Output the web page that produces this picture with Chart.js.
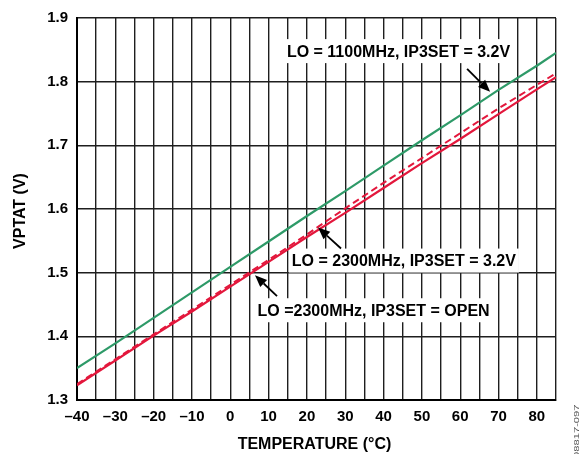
<!DOCTYPE html>
<html>
<head>
<meta charset="utf-8">
<script src="https://cdn.jsdelivr.net/npm/chart.js@4.4.1/dist/chart.umd.min.js"></script>
<style>
  html, body { margin: 0; padding: 0; background: #fff; }
  #wrap { position: relative; width: 585px; height: 454px; }
</style>
</head>
<body>
<div id="wrap"><canvas id="chart" width="585" height="454"></canvas></div>
<script>
// Temperature (°C) sample points
const temps = [-40, -30, -20, -10, 0, 10, 20, 30, 40, 50, 60, 70, 80, 85];

// VPTAT (V)
const lo1100_ip3_32 = [1.350, 1.389, 1.429, 1.469, 1.509, 1.549, 1.589, 1.628, 1.668, 1.708, 1.747, 1.787, 1.825, 1.845];
const lo2300_ip3_32 = [1.325, 1.364, 1.403, 1.442, 1.481, 1.520, 1.560, 1.601, 1.641, 1.680, 1.719, 1.758, 1.795, 1.813];
const lo2300_open   = [1.323, 1.362, 1.401, 1.439, 1.478, 1.517, 1.556, 1.594, 1.633, 1.672, 1.710, 1.749, 1.788, 1.807];

const xTicks = [-40, -30, -20, -10, 0, 10, 20, 30, 40, 50, 60, 70, 80];
const yTicks = [1.3, 1.4, 1.5, 1.6, 1.7, 1.8, 1.9];

// callouts: text anchor and arrow (tail -> tip), in data units
const callouts = [
  { text: 'LO = 1100MHz, IP3SET = 3.2V', at: [43.9, 1.848], tail: [61.8, 1.820], tip: [67.8, 1.784] },
  { text: 'LO = 2300MHz, IP3SET = 3.2V', at: [45.3, 1.519], tail: [28.9, 1.538], tip: [22.9, 1.571] },
  { text: 'LO =2300MHz, IP3SET = OPEN',  at: [37.4, 1.441], tail: [12.2, 1.463], tip: [6.45, 1.496] }
];

const FONT = "'Liberation Sans', Arial, Helvetica, sans-serif";
const GREEN = '#2e9a68';
const RED = '#e3173c';

const toPoints = ys => temps.map((t, i) => ({ x: t, y: ys[i] }));

const calloutBoxes = {
  id: 'calloutBoxes',
  beforeDatasetsDraw(chart) {
    const { ctx, scales: { x, y } } = chart;
    ctx.save();
    ctx.font = 'bold 16px ' + FONT;
    callouts.forEach(c => {
      const w = ctx.measureText(c.text).width;
      const cx = x.getPixelForValue(c.at[0]);
      const cy = y.getPixelForValue(c.at[1]);
      ctx.fillStyle = '#fff';
      ctx.fillRect(cx - w / 2 - 3, cy - 12, w + 6, 24);
    });
    ctx.restore();
  },
  afterDatasetsDraw(chart) {
    const { ctx, scales: { x, y } } = chart;
    ctx.save();
    ctx.font = 'bold 16px ' + FONT;
    ctx.fillStyle = '#000';
    ctx.textAlign = 'center';
    ctx.textBaseline = 'middle';
    callouts.forEach(c => {
      ctx.fillText(c.text, x.getPixelForValue(c.at[0]), y.getPixelForValue(c.at[1]) + 1);

      const x0 = x.getPixelForValue(c.tail[0]), y0 = y.getPixelForValue(c.tail[1]);
      const x1 = x.getPixelForValue(c.tip[0]), y1 = y.getPixelForValue(c.tip[1]);
      const a = Math.atan2(y1 - y0, x1 - x0);
      const hl = 12, hw = 5;
      const bx = x1 - hl * Math.cos(a), by = y1 - hl * Math.sin(a);
      ctx.strokeStyle = '#000';
      ctx.lineWidth = 1.8;
      ctx.beginPath();
      ctx.moveTo(x0, y0);
      ctx.lineTo(bx, by);
      ctx.stroke();
      ctx.beginPath();
      ctx.moveTo(x1, y1);
      ctx.lineTo(bx + hw * Math.sin(a), by - hw * Math.cos(a));
      ctx.lineTo(bx - hw * Math.sin(a), by + hw * Math.cos(a));
      ctx.closePath();
      ctx.fill();
    });
    ctx.restore();
  },
  afterDraw(chart) {
    const { ctx, chartArea } = chart;
    ctx.save();
    ctx.fillStyle = '#000';
    ctx.font = 'bold 16px ' + FONT;
    ctx.textAlign = 'center';
    ctx.textBaseline = 'middle';
    ctx.fillText('TEMPERATURE (°C)', (chartArea.left + chartArea.right) / 2 - 2, 445);
    ctx.translate(21, (chartArea.top + chartArea.bottom) / 2 + 2);
    ctx.rotate(-Math.PI / 2);
    ctx.fillText('VPTAT (V)', 0, 0);
    ctx.restore();

    // figure id, rotated and stretched along its run
    ctx.save();
    ctx.fillStyle = '#555';
    ctx.font = '7px ' + FONT;
    ctx.textAlign = 'left';
    ctx.textBaseline = 'middle';
    ctx.translate(577, 458);
    ctx.rotate(-Math.PI / 2);
    ctx.scale(1.6, 1);
    ctx.fillText('08817-097', 0, 0);
    ctx.restore();
  }
};

new Chart(document.getElementById('chart').getContext('2d'), {
  type: 'line',
  data: {
    datasets: [
      {
        label: 'LO = 2300MHz, IP3SET = 3.2V',
        data: toPoints(lo2300_ip3_32),
        borderColor: RED,
        borderWidth: 2,
        borderDash: [7, 4],
        pointRadius: 0,
        fill: false
      },
      {
        label: 'LO = 2300MHz, IP3SET = OPEN',
        data: toPoints(lo2300_open),
        borderColor: RED,
        borderWidth: 2.2,
        pointRadius: 0,
        fill: false
      },
      {
        label: 'LO = 1100MHz, IP3SET = 3.2V',
        data: toPoints(lo1100_ip3_32),
        borderColor: GREEN,
        borderWidth: 2.2,
        pointRadius: 0,
        fill: false
      }
    ]
  },
  options: {
    responsive: false,
    animation: false,
    layout: { padding: { top: 17, right: 29, left: 0, bottom: 0 } },
    plugins: {
      legend: { display: false },
      tooltip: { enabled: false }
    },
    scales: {
      x: {
        type: 'linear',
        min: -40,
        max: 85,
        afterFit: s => { s.height = 54; },
        afterBuildTicks: s => {
          const t = [];
          for (let v = -40; v <= 85; v += 5) t.push({ value: v });
          s.ticks = t;
        },
        grid: { color: '#1e1e1e', lineWidth: 1.4, drawTicks: false },
        border: { color: '#000', width: 2 },
        ticks: {
          padding: 8,
          autoSkip: false,
          maxRotation: 0,
          color: '#000',
          font: { family: FONT, size: 15, weight: 'bold' },
          callback: v => xTicks.includes(v) ? String(v).replace('-', '\u2013') : ''
        }
      },
      y: {
        min: 1.3,
        max: 1.9,
        afterFit: s => { s.width = 77; },
        afterBuildTicks: s => { s.ticks = yTicks.map(v => ({ value: v })); },
        grid: { color: '#1e1e1e', lineWidth: 1.4, drawTicks: false },
        border: { color: '#000', width: 2 },
        ticks: {
          padding: 9,
          color: '#000',
          font: { family: FONT, size: 15, weight: 'bold' },
          callback: v => v.toFixed(1)
        }
      }
    }
  },
  plugins: [calloutBoxes]
});
</script>
</body>
</html>
